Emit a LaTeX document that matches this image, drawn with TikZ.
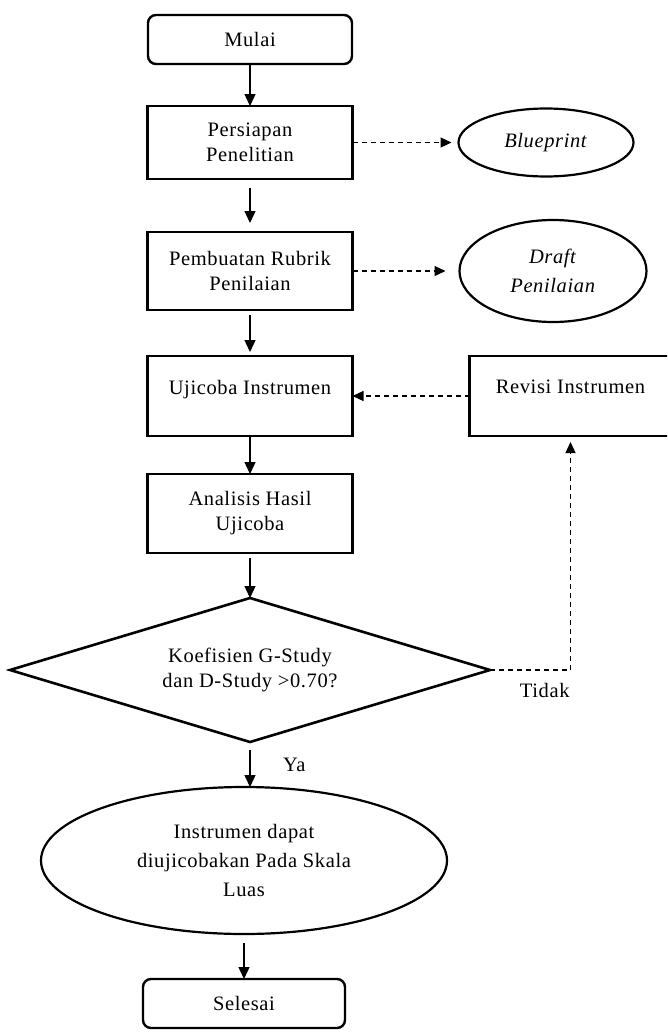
\documentclass[tikz,border=0pt]{standalone}
\usepackage{fontspec}
\setmainfont{Liberation Serif}[LetterSpace=3]
\usetikzlibrary{arrows.meta, positioning, shapes.geometric}

\begin{document}
\begin{tikzpicture}[
    x=1pt, y=1pt,
    node distance=45pt,
    every node/.style={align=center, inner sep=0pt, outer sep=0pt, font=\fontsize{20.5}{25}\selectfont},
    startstop/.style={draw, rounded corners=8pt, line width=2.4pt, minimum width=204pt, minimum height=49pt},
    process/.style={draw, line width=2.6pt, minimum width=205pt, minimum height=78pt},
    output/.style={draw, ellipse, line width=2.2pt},
    decision/.style={draw, diamond, aspect=3.3, line width=2.6pt, minimum width=480pt, minimum height=144pt},
    arrow/.style={-{Triangle[length=12pt, width=11pt]}, line width=1.4pt},
    dasharrow/.style={-{Triangle[length=11pt, width=10pt]}, line width=1.2pt, dash pattern=on 5pt off 4pt}
]
\useasboundingbox (0,0) rectangle (667,-1036);
\clip (0,0) rectangle (667,-1036);

% Nodes
\node[startstop] (M) at (250,-39.5) {Mulai};
\node[process, below=42pt of M, minimum height=73pt] (P) {Persiapan\\Penelitian};
\node[process, below=53pt of P] (R) {Pembuatan Rubrik\\Penilaian};
\node[process, below=46pt of R, minimum height=80pt, text depth=18pt] (U) {Ujicoba Instrumen};
\node[process, below=38pt of U, minimum height=79pt] (A) {Analisis Hasil\\Ujicoba};
\node[decision, below=45pt of A] (K) {Koefisien G-Study\\dan D-Study >0.70?};
\node[output, below=45pt of K, xshift=-6pt, minimum width=406pt, minimum height=147pt] (I) {Instrumen dapat\\[4pt]diujicobakan Pada Skala\\[4pt]Luas};
\node[startstop, below=45pt of I, minimum width=202pt] (S) {Selesai};

\node[output, right=106pt of P, minimum width=175pt, minimum height=68pt] (B) {\textit{Blueprint}};
\node[output, right=107pt of R, minimum width=187pt, minimum height=102pt] (D) {\textit{Draft}\\[4pt]\textit{Penilaian}};
\node[process, right=117pt of U, minimum width=202pt, minimum height=80pt, text depth=18pt] (V) {Revisi Instrumen};

% Arrows
\draw[arrow] (M) -- (P);
\draw[arrow, shorten <=9pt, shorten >=9pt] (P) -- (R);
\draw[arrow, shorten <=5pt, shorten >=4pt] (R) -- (U);
\draw[arrow] (U) -- (A);
\draw[arrow, shorten <=5pt] (A) -- (K);
\draw[arrow, shorten <=8pt] (K.south) -- node[right=33pt] {Ya} (K.south |- I.north);
\draw[arrow, shorten <=9pt] (I) -- (S);

\draw[dasharrow, shorten >=7pt] (P) -- (B);
\draw[dasharrow, shorten >=14pt] (R) -- (D);
\draw[dasharrow] (V) -- (U);
\draw[dasharrow, shorten >=6pt] (K.east) -| node[pos=0.34, below=13pt] {Tidak} (V.south);

\end{tikzpicture}
\end{document}
